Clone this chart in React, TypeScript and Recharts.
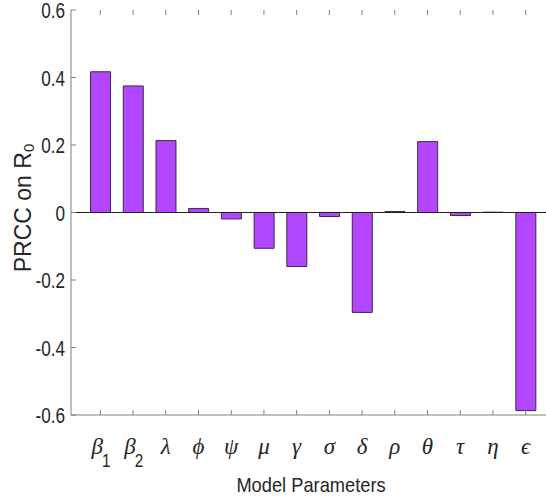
import { BarChart, Bar, XAxis, YAxis, ReferenceLine } from "recharts";

const params = ["β1", "β2", "λ", "ϕ", "ψ", "μ", "γ", "σ", "δ", "ρ", "θ", "τ", "η", "ϵ"];
const prcc = [0.417, 0.375, 0.213, 0.012, -0.019, -0.106, -0.16, -0.012, -0.296, 0.003, 0.21, -0.009, 0.001, -0.587];
const yTicks = [-0.6, -0.4, -0.2, 0, 0.2, 0.4, 0.6];

const data = params.map((name, i) => ({ name, value: prcc[i] }));

const axisColor = "#808080";
const textColor = "#262626";
const sans = "'Liberation Sans', Arial, sans-serif";

const PLOT_TOP = 10;
const PLOT_BOTTOM = 415;

function XTick(props: any) {
  const { x, payload } = props;
  const label: string = payload.value;
  const sym = label.charAt(0);
  const sub = label.slice(1);
  return (
    <g>
      <line x1={x} x2={x} y1={PLOT_BOTTOM} y2={PLOT_BOTTOM - 5} stroke={axisColor} />
      <line x1={x} x2={x} y1={PLOT_TOP} y2={PLOT_TOP + 5} stroke={axisColor} />
      <text
        x={sub ? x - 3 : x}
        y={PLOT_BOTTOM + 39}
        textAnchor="middle"
        fill={textColor}
        style={{ fontFamily: "'Liberation Serif', serif", fontStyle: "italic", fontSize: 23 }}
      >
        {sym}
      </text>
      {sub && (
        <g transform={`translate(${x + 6}, ${PLOT_BOTTOM + 52}) scale(0.85, 1)`}>
          <text x={0} y={0} textAnchor="middle" fill={textColor} style={{ fontFamily: sans, fontSize: 18 }}>
            {sub}
          </text>
        </g>
      )}
    </g>
  );
}

function YTick(props: any) {
  const { x, y, payload } = props;
  return (
    <g>
      <line x1={x + 6} x2={x + 11} y1={y} y2={y} stroke={axisColor} />
      <g transform={`translate(${x}, ${y + 8}) scale(0.78, 1)`}>
        <text x={0} y={0} textAnchor="end" fill={textColor} style={{ fontFamily: sans, fontSize: 22 }}>
          {payload.value}
        </text>
      </g>
    </g>
  );
}

export default function App() {
  return (
    <div
      style={{
        position: "absolute",
        left: 0,
        top: 0,
        width: 546,
        height: 502,
        overflow: "hidden",
        background: "#fff",
      }}
    >
      <BarChart
        width={580}
        height={502}
        data={data}
        margin={{ top: PLOT_TOP, right: 25, bottom: 0, left: 0 }}
        barCategoryGap="20%"
        style={{ overflow: "visible" }}
      >
        <XAxis
          dataKey="name"
          padding={{ left: 13, right: 13 }}
          tickLine={false}
          tickSize={0}
          tickMargin={0}
          tick={<XTick />}
          interval={0}
          axisLine={{ stroke: axisColor }}
          height={502 - PLOT_BOTTOM}
        />
        <XAxis
          xAxisId="top"
          orientation="top"
          dataKey="name"
          padding={{ left: 13, right: 13 }}
          tick={false}
          tickLine={false}
          axisLine={{ stroke: axisColor }}
          height={0}
        />
        <YAxis
          domain={[-0.6, 0.6]}
          ticks={yTicks}
          width={71}
          tickLine={false}
          tickSize={0}
          tickMargin={6}
          tick={<YTick />}
          interval={0}
          axisLine={{ stroke: axisColor }}
        />
        <ReferenceLine y={0} stroke="#222" strokeWidth={1} />
        <Bar
          dataKey="value"
          fill="#B347FF"
          stroke="#3a2a40"
          strokeWidth={1}
          isAnimationActive={false}
        />
      </BarChart>
      <svg
        width={546}
        height={502}
        style={{ position: "absolute", left: 0, top: 0, pointerEvents: "none" }}
      >
        <text
          transform="translate(31, 208) rotate(-90)"
          textAnchor="middle"
          fill={textColor}
          style={{ fontFamily: sans, fontSize: 23 }}
        >
          PRCC on R
          <tspan dy={3} fontSize={15}>
            0
          </tspan>
        </text>
        <g transform="translate(311, 492) scale(0.87, 1)">
          <text x={0} y={0} textAnchor="middle" fill={textColor} style={{ fontFamily: sans, fontSize: 21 }}>
            Model Parameters
          </text>
        </g>
      </svg>
    </div>
  );
}
